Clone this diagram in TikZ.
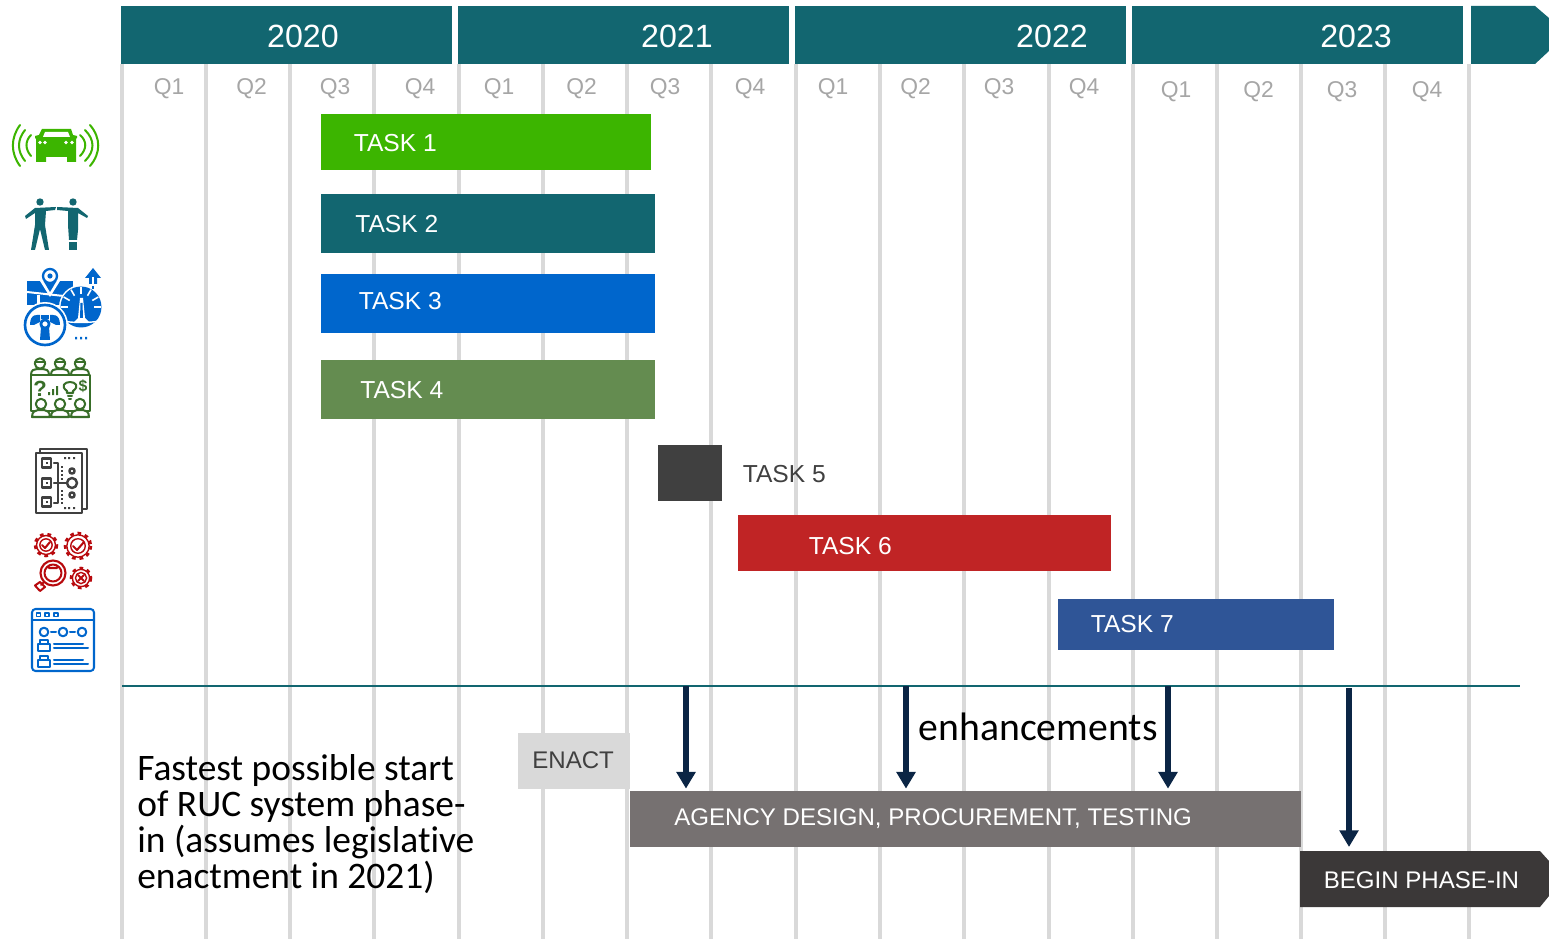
\documentclass[tikz,border=0pt]{standalone}
\usepackage{fontspec}
\setmainfont{Liberation Sans}
\newfontfamily\notefont[Ligatures=CommonOff]{Carlito}
\usepackage{tikz}
\usetikzlibrary{arrows.meta, positioning, calc}
\definecolor{yearteal}{RGB}{18, 102, 112}
\definecolor{gridgray}{RGB}{217, 217, 217}
\definecolor{labelgray}{RGB}{166, 166, 166}
\definecolor{green1}{RGB}{60, 181, 0}
\definecolor{blue1}{RGB}{0, 102, 204}
\definecolor{olive1}{RGB}{100, 140, 80}
\definecolor{slate1}{RGB}{64, 64, 64}
\definecolor{red1}{RGB}{192, 36, 37}
\definecolor{navy1}{RGB}{47, 85, 151}
\definecolor{icongreen}{RGB}{56, 110, 40}
\definecolor{iconred}{RGB}{184, 10, 14}
\definecolor{agencygray}{RGB}{118, 113, 113}
\definecolor{phasegray}{RGB}{59, 56, 56}
\definecolor{arrownavy}{RGB}{11, 37, 69}
\tikzset{
  yeartext/.style={text=white, font=\fontsize{18.3}{20}\selectfont},
  qlabel/.style={text=labelgray, font=\fontsize{13}{14}\selectfont},
  barbox/.style={draw=none, inner sep=0pt},
  bartext/.style={anchor=west, inner sep=0pt, text=white, font=\fontsize{14}{16}\selectfont},
  lowtext/.style={anchor=west, inner sep=0pt, text=white, font=\fontsize{13.7}{16}\selectfont},
  droparrow/.style={draw=arrownavy, line width=2.9pt, -{Triangle[width=10.5pt, length=9.5pt]}, shorten >=0pt},
  icon/.style={line width=1.15pt, line cap=round, line join=round},
}
\newcommand{\gearicon}[4]{%
  \draw[icon, draw=iconred, line width=1.5pt, line cap=butt, dash pattern=on 2.1pt off 2.2pt] (#1,#2) circle (#3);
  \draw[icon, draw=iconred, line width=0.8pt] (#1,#2) circle (#3*0.86);
  \draw[icon, draw=iconred, line width=0.8pt] (#1,#2) circle (#3*0.56);
  \draw[icon, draw=iconred] #4;
}
\begin{document}
\begin{tikzpicture}[x=0.02cm, y=-0.02cm]
  \useasboundingbox (0,0) rectangle (1549,939);

  % grid
  \foreach \gx in {122,206,290,374,459,543,627,711,796,880,964,1049,1133,1217,1301,1385,1469}
    \draw[gridgray, line width=1.9pt] (\gx,64) -- (\gx,939);
  \draw[yearteal, line width=0.6pt] (122,686) -- (1520,686);

  % year header
  \fill[yearteal] (121,6) rectangle (452,64);
  \fill[yearteal] (458,6) rectangle (789,64);
  \fill[yearteal] (795,6) rectangle (1126,64);
  \fill[yearteal] (1132,6) rectangle (1463,64);
  \fill[yearteal] (1471,6) -- (1535,6) -- (1549,18) -- (1549,51) -- (1535,64) -- (1471,64) -- cycle;
  \node[yeartext] (y2020) at (303,36) {2020};
  \node[yeartext] (y2021) at (677,36) {2021};
  \node[yeartext] (y2022) at (1052,36) {2022};
  \node[yeartext] (y2023) at (1356,36) {2023};

  % quarters
  \foreach \qx/\qn/\qname in {169/1/a,251.5/2/b,335/3/c,420/4/d,499/1/e,581.5/2/f,665/3/g,750/4/h,833/1/i,915.5/2/j,999/3/k,1084/4/l}
    \node[qlabel] (q\qname) at (\qx,88.5) {Q\qn};
  \foreach \qx/\qn/\qname in {1176/1/m,1258.5/2/n,1342/3/o,1427/4/p}
    \node[qlabel] (q\qname) at (\qx,91.5) {Q\qn};

  % task bars
  \node[barbox, fill=green1, minimum width=6.6cm, minimum height=1.12cm] (task1) at (486,142) {};
  \node[barbox, fill=yearteal, minimum width=6.68cm, minimum height=1.18cm] (task2) at (488,223.5) {};
  \node[barbox, fill=blue1, minimum width=6.68cm, minimum height=1.18cm] (task3) at (488,303.5) {};
  \node[barbox, fill=olive1, minimum width=6.68cm, minimum height=1.18cm] (task4) at (488,389.5) {};
  \node[barbox, fill=slate1, minimum width=1.28cm, minimum height=1.12cm] (task5) at (690,473) {};
  \node[barbox, fill=red1, minimum width=7.46cm, minimum height=1.12cm] (task6) at (924.5,543) {};
  \node[barbox, fill=navy1, minimum width=5.52cm, minimum height=1.02cm] (task7) at (1196,624.5) {};
  \node[bartext] (label1) at (353.5,143) {TASK 1};
  \node[bartext] (label2) at (355,224) {TASK 2};
  \node[bartext] (label3) at (358.5,301) {TASK 3};
  \node[bartext] (label4) at (360,390) {TASK 4};
  \node[bartext, text=slate1] (label5) at (742.5,474) {TASK 5};
  \node[bartext] (label6) at (808.5,546) {TASK 6};
  \node[bartext] (label7) at (1090.5,624) {TASK 7};

  % bottom row
  \node[barbox, fill=gridgray, minimum width=2.24cm, minimum height=1.12cm] (enact) at (574,761) {};
  \node[lowtext, text=slate1] (enacttext) at (532,760) {ENACT};
  \node[barbox, fill=agencygray, minimum width=13.42cm, minimum height=1.12cm] (agency) at (965.5,819) {};
  \node[lowtext] (agencytext) at (674,818.5) {AGENCY DESIGN, PROCUREMENT, TESTING};
  \fill[phasegray] (1300,851) -- (1540,851) -- (1549,861) -- (1549,896) -- (1540,907) -- (1300,907) -- cycle;
  \node[lowtext] (phasetext) at (1323.5,880) {BEGIN PHASE-IN};

  % arrows
  \coordinate (drop1) at (686,686);
  \coordinate (drop2) at (906,686);
  \coordinate (drop3) at (1168,686);
  \coordinate (drop4) at (1349,688);
  \coordinate (phasetop) at (1349,847);
  \draw[droparrow] (drop1) -- ($(drop1 |- agency.north)+(0,-2)$);
  \draw[droparrow] (drop2) -- ($(drop2 |- agency.north)+(0,-2)$);
  \draw[droparrow] (drop3) -- ($(drop3 |- agency.north)+(0,-2)$);
  \draw[droparrow] (drop4) -- (phasetop);

  % notes
  \node[anchor=west, inner sep=0pt, font=\notefont\fontsize{22.6}{23}\selectfont] (enhance) at (918.5,727) {enhancements};
  \node[anchor=north west, inner sep=0pt, align=left, font=\notefont\fontsize{21.3}{20.5}\selectfont] (note) at (137,754) {Fastest possible start\\of RUC system phase-\\in (assumes legislative\\enactment in 2021)};

  % car icon
  \draw[icon, green1] (20,125) .. controls (10.5,138) and (10.5,153) .. (20,166);
  \draw[icon, green1] (25,130) .. controls (17,140) and (17,151) .. (25,161);
  \draw[icon, green1] (31,135) .. controls (25,141) and (25,149) .. (31,156);
  \draw[icon, green1] (90,125) .. controls (101,138) and (101,153) .. (90,166);
  \draw[icon, green1] (85,130) .. controls (95,140) and (95,151) .. (85,161);
  \draw[icon, green1] (80,135) .. controls (87,141) and (87,149) .. (80,156);
  \fill[green1] (42,129) -- (71,129) -- (73,135) -- (77,136) -- (77,138) -- (76,139) -- (76,162) -- (67,162) -- (67,157) -- (46,157) -- (46,162) -- (36,162) -- (36,139) -- (35,138) -- (35,136) -- (39,135) -- cycle;
  \fill[white] (45,132) -- (68,132) -- (70,137) -- (43,137) -- cycle;
  \fill[white] (40,142.5) circle (1.9) (45,142.5) circle (1.9) (66,142.5) circle (1.9) (72,142.5) circle (1.9);

  % handshake icon
  \fill[yearteal] (40,202) circle (3.7) (73,202) circle (3.7);
  \fill[yearteal] (25,216) -- (35,208) -- (56,207) -- (55,210) -- (46,211) -- (45,225) -- (49,250) -- (45,250) -- (40,229) -- (35,250) -- (31,250) -- (35,225) -- (35,213) -- (26,219) -- cycle;
  \fill[yearteal] (57,207) -- (78,208) -- (88,216) -- (87,218) -- (78,213) -- (78,230) -- (77,240) -- (69,240) -- (68,225) -- (68,211) -- (57,210) -- cycle;
  \fill[yearteal] (69,242) rectangle (77,250);

  % driving icon
  \fill[blue1] (27,281) rectangle (73,305);
  \fill[white] (27,291) -- (73,296) -- (73,298) -- (27,293) -- cycle;
  \fill[white] (40,295) rectangle (37,305);
  \fill[white] (40,281) -- (50,297) -- (60,281) -- cycle;
  \fill[blue1] (43.5,281) -- (50,292) -- (56.5,281) -- cycle;
  \draw[icon, blue1, fill=white, line width=1.3pt] (50,276) circle (7);
  \fill[blue1] (50,276) circle (2.6);
  \fill[white] (81,307) circle (22);
  \fill[blue1] (81,307) circle (20.5);
  \fill[white] (80,298) -- (83,298) -- (85,318) -- (90,323) -- (73,323) -- (78,318) -- cycle;
  \fill[blue1] (80.5,303) -- (82.5,303) -- (83,318) -- (80,318) -- cycle;
  \draw[white, line width=0.8pt] (63,321) .. controls (72,323) and (90,323) .. (99,321);
  \foreach \ga in {180,210,240,270,300,330,360}
    \draw[white, line width=0.9pt] ($(81,307)+(\ga:13)$) -- ($(81,307)+(\ga:20)$);
  \fill[white] (45,325) circle (23);
  \draw[icon, blue1, line width=1.5pt] (45,325) circle (20);
  \fill[blue1] (30,325) .. controls (30,313) and (38,315) .. (40,315) -- (40,322) -- (34,325) -- cycle;
  \fill[blue1] (60,325) .. controls (60,313) and (52,315) .. (50,315) -- (50,322) -- (56,325) -- cycle;
  \fill[blue1] (41,315) rectangle (49,319);
  \fill[blue1] (41,327) -- (49,327) -- (50,340) -- (40,340) -- cycle;
  \draw[icon, blue1, line width=1.6pt] (45,324) circle (4.2);
  \fill[blue1] (93,268) -- (101,278) -- (97,278) -- (97,284) -- (89,284) -- (89,278) -- (85,278) -- cycle;
  \fill[white] (92,277) rectangle (94,284);
  \fill[blue1] (92,286) rectangle (94,289);
  \fill[blue1] (75,337) rectangle (77,339.5) (80,337) rectangle (82,339.5) (85,337) rectangle (87,339.5);

  % boardroom icon
  \foreach \hx in {40,60,80} {
    \draw[icon, icongreen] (\hx,363.5) circle (5.2);
    \draw[icon, icongreen] (\hx-5,362) -- (\hx+5,362);
    \draw[icon, icongreen] (\hx-9,375) .. controls (\hx-9,370) and (\hx-6,369) .. (\hx-3,369) -- (\hx+3,369) .. controls (\hx+6,369) and (\hx+9,370) .. (\hx+9,375);
  }
  \draw[icon, icongreen, line width=1.3pt] (31,375) rectangle (90,411);
  \foreach \hx in {41,60,80} {
    \draw[icon, icongreen, fill=white] (\hx,404) circle (5.2);
    \draw[icon, icongreen, fill=white] (\hx-9,417) .. controls (\hx-9,412) and (\hx-6,410) .. (\hx-3,410) -- (\hx+3,410) .. controls (\hx+6,410) and (\hx+9,412) .. (\hx+9,417) -- cycle;
  }
  \node[inner sep=0pt, text=icongreen, font=\bfseries\fontsize{12.5}{13}\selectfont] (boardq) at (40,389) {?};
  \node[inner sep=0pt, text=icongreen, font=\bfseries\fontsize{9}{10}\selectfont] (boardd) at (83,386) {\$};
  \fill[icongreen] (48,392) rectangle (50,395) (52,389) rectangle (54,395) (56,386) rectangle (58,395);
  \draw[icon, icongreen] (67,393) -- (67,391) .. controls (60,386) and (65,382) .. (70,382) .. controls (75,382) and (80,386) .. (73,391) -- (73,393) -- cycle;
  \draw[icon, icongreen] (68,396) -- (72,396) (69,399) -- (71,399);

  % flowchart icon
  \draw[icon, slate1, line width=1.3pt] (40,453) -- (40,449) -- (87,449) -- (87,509) -- (82,509);
  \draw[icon, slate1, line width=1.5pt] (36,453) rectangle (82,513);
  \foreach \sy in {463,483,502} {
    \draw[icon, slate1, line width=1.4pt] (42,\sy-4.5) rectangle (51,\sy+4.5);
    \fill[slate1] (45.5,\sy-1) rectangle (47.5,\sy+1);
  }
  \draw[icon, slate1, line width=1.3pt] (54,463) -- (58,463) -- (58,503) -- (54,503) (54,483) -- (66,483);
  \draw[icon, slate1, line width=1.4pt] (72,483) circle (5) (72,471) circle (2.6) (72,495) circle (2.6);
  \foreach \dy in {466,470,474,478,490,494,498,502}
    \fill[slate1] (61,\dy) rectangle (63,\dy+1.8);
  \fill[slate1] (64,457) rectangle (66,459) (68,457) rectangle (70,459) (73,457) rectangle (75,459);
  \fill[slate1] (64,507) rectangle (66,509) (68,507) rectangle (70,509) (73,507) rectangle (75,509);

  % gears icon
  \gearicon{46}{545}{11}{(42,545) -- (45,548) -- (50,542)}
  \gearicon{78}{546}{13}{(73,546) -- (77,550) -- (84,542)}
  \gearicon{81}{578}{10}{(78,575) -- (84,581) (84,575) -- (78,581)}
  \draw[icon, iconred, line width=1.2pt] (53,573) circle (12.5);
  \draw[icon, iconred] (53,573) circle (8.5) (49,568) -- (57,568);
  \draw[icon, iconred] (44,582) -- (41,585) (40,582) -- (45,587) -- (40,591) -- (35,585.5) -- cycle;

  % process window icon
  \draw[icon, blue1, rounded corners=2pt] (32,609) rectangle (94,671);
  \draw[icon, blue1] (32,620) -- (94,620);
  \foreach \wx in {38.5,47,56}
    \draw[icon, blue1, line width=1pt] (\wx-2,613) rectangle (\wx+2,616.5);
  \foreach \wx in {44,63,82}
    \draw[icon, blue1] (\wx,632) circle (4.3);
  \draw[icon, blue1] (51,632) -- (56,632) (70,632) -- (75,632);
  \foreach \wy in {646,662} {
    \draw[icon, blue1] (38,\wy-2) rectangle (50,\wy+5) (40,\wy-2) -- (40,\wy-6) -- (48,\wy-6) -- (48,\wy-2);
    \draw[icon, blue1] (54,\wy-2) -- (83,\wy-2) (54,\wy+2) -- (88,\wy+2);
  }
\end{tikzpicture}
\end{document}
